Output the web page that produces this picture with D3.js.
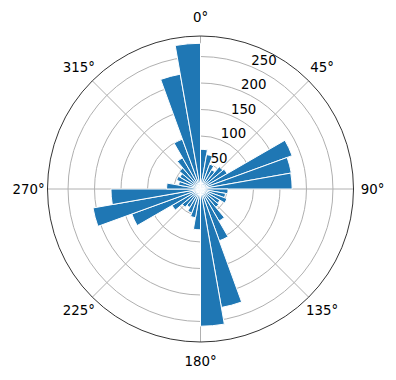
<!DOCTYPE html>
<html>
<head>
<meta charset="utf-8">
<script src="https://cdn.jsdelivr.net/npm/d3@7"></script>
<style>
    body { margin: 0; background: #fff; }
    text { font-family: "DejaVu Sans", sans-serif; font-size: 13.33px; fill: #000; }
</style>
</head>
<body>
<div id="canvas"></div>
<script>
// bin start angles (degrees, clockwise from north), 10 degree bins
var binStarts = [0, 10, 20, 30, 40, 50, 60, 70, 80, 90, 100, 110,
    120, 130, 140, 150, 160, 170, 180, 190, 200, 210, 220, 230,
    240, 250, 260, 270, 280, 290, 300, 310, 320, 330, 340, 350];

// counts per bin
var counts = [75, 66, 50, 42, 55, 58, 184, 174, 173, 52, 48, 53,
    42, 45, 70, 104, 227, 259, 77, 55, 48, 40, 45, 62,
    138, 206, 169, 64, 42, 48, 45, 52, 68, 100, 220, 275];

var rTicks = [50, 100, 150, 200, 250];
var thetaTicks = [0, 45, 90, 135, 180, 225, 270, 315];

var width = 396, height = 380;
var cx = 200.5, cy = 189, outerR = 153;
var binWidth = 10;

var svg = d3.select("#canvas").append("svg")
    .attr("width", width)
    .attr("height", height);

var g = svg.append("g")
    .attr("transform", "translate(" + cx + "," + cy + ")");

// radial scale, matplotlib style 5% margin above the tallest bar
var r = d3.scaleLinear()
    .domain([0, d3.max(counts) * 1.05])
    .range([0, outerR]);

var rad = function (deg) { return deg * Math.PI / 180; };

// grid first, bars cover it
var grid = g.append("g")
    .attr("fill", "none")
    .attr("stroke", "#b0b0b0")
    .attr("stroke-width", 1);

grid.selectAll("circle")
    .data(rTicks)
    .enter()
    .append("circle")
    .attr("r", function (d) { return r(d); });

grid.selectAll("line")
    .data(thetaTicks)
    .enter()
    .append("line")
    .attr("x1", 0)
    .attr("y1", 0)
    .attr("x2", function (d) { return outerR * Math.sin(rad(d)); })
    .attr("y2", function (d) { return -outerR * Math.cos(rad(d)); });

// bars
var arc = d3.arc()
    .innerRadius(0)
    .outerRadius(function (d) { return r(d.v); })
    .startAngle(function (d) { return rad(d.a); })
    .endAngle(function (d) { return rad(d.a + binWidth); });

var bars = binStarts.map(function (a, i) { return {a: a, v: counts[i]}; });

g.append("g").selectAll("path")
    .data(bars)
    .enter()
    .append("path")
    .attr("d", arc)
    .attr("fill", "#1f77b4")
    .attr("stroke", "#fff")
    .attr("stroke-width", 1);

// outer frame
g.append("circle")
    .attr("r", outerR)
    .attr("fill", "none")
    .attr("stroke", "#000")
    .attr("stroke-width", 0.8);

// radial tick labels at 22.5 degrees
g.selectAll(".rlabel")
    .data(rTicks)
    .enter()
    .append("text")
    .attr("class", "rlabel")
    .attr("x", function (d) { return r(d) * Math.sin(rad(22.5)); })
    .attr("y", function (d) { return -r(d) * Math.cos(rad(22.5)) - 2; })
    .attr("text-anchor", "start")
    .text(function (d) { return d; });

// angle labels
var labelR = 172;
g.selectAll(".tlabel")
    .data(thetaTicks)
    .enter()
    .append("text")
    .attr("class", "tlabel")
    .attr("x", function (d) { return labelR * Math.sin(rad(d)); })
    .attr("y", function (d) { return -labelR * Math.cos(rad(d)); })
    .attr("text-anchor", "middle")
    .attr("dominant-baseline", "central")
    .text(function (d) { return d + "°"; });
</script>
</body>
</html>
